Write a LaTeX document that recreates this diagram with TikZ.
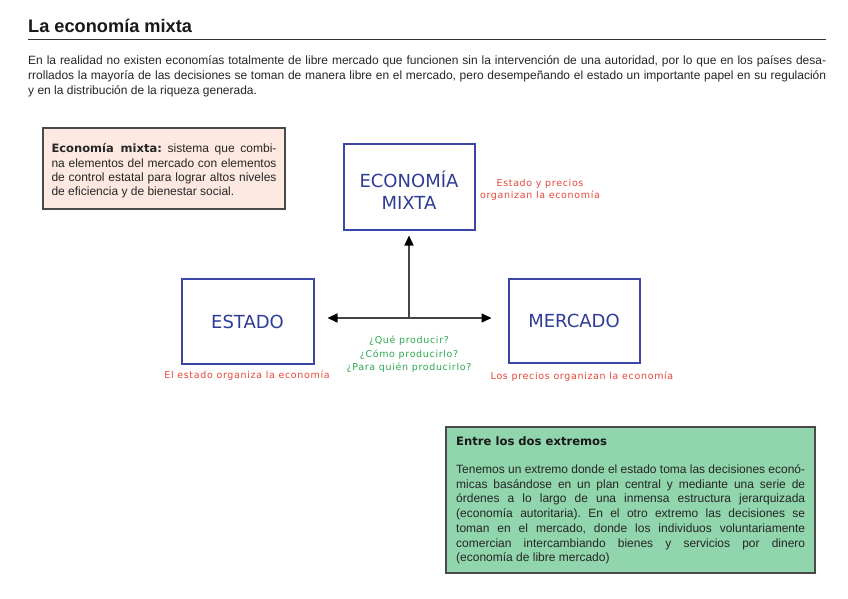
\documentclass[tikz,border=0pt]{standalone}
\usepackage{fontspec}
\setmainfont{Liberation Sans}
\newfontfamily\dv{DejaVu Sans}
\newfontfamily\dvls[LetterSpace=7]{DejaVu Sans}
\newfontfamily\dvbold{DejaVu Sans Bold}
\usetikzlibrary{arrows.meta}
\definecolor{rulegray}{HTML}{333333}
\definecolor{pinkfill}{HTML}{FDE9E1}
\definecolor{boxgray}{HTML}{4A4A4A}
\definecolor{blueline}{HTML}{3B46A6}
\definecolor{bluetext}{HTML}{2E3C96}
\definecolor{redtext}{HTML}{E8463A}
\definecolor{greentext}{HTML}{2DAA50}
\definecolor{greenfill}{HTML}{90D5AC}
\definecolor{arrgray}{HTML}{444444}
\newcommand\jl[2]{\makebox[#1][s]{#2}}
\frenchspacing
\begin{document}
\frenchspacing
\begin{tikzpicture}[x=1pt,y=-1pt,
  bluebox/.style={draw=blueline,line width=2pt,fill=white,inner sep=0pt,
    font=\dv\fontsize{18}{22}\selectfont,text=bluetext,align=center},
  redlbl/.style={inner sep=0pt,text=redtext,align=center,font=\dvls\fontsize{9.5}{12}\selectfont},
  greenlbl/.style={inner sep=0pt,text=greentext,align=center,font=\dvls\fontsize{9.5}{13.5}\selectfont},
  bodytxt/.style={inner sep=0pt,align=left,text=black!85},
  arr/.style={draw=arrgray,line width=1.5pt,-{Triangle[length=10pt,width=9pt,color=black]}},
  darr/.style={draw=arrgray,line width=1.5pt,{Triangle[length=10pt,width=9pt,color=black]}-{Triangle[length=10pt,width=9pt,color=black]}}
]
\fill[white] (0,0) rectangle (848,599);
\useasboundingbox (0,0) rectangle (848,599);

% title and rule
\node[anchor=base west,inner sep=0pt,font=\fontsize{18.2}{21}\selectfont\bfseries,text=black!90] (title) at (28,33) {La economía mixta};
\coordinate (ruleL) at (28,39.5);
\coordinate (ruleR) at (826,39.5);
\draw[rulegray,line width=1pt] (ruleL) -- (ruleR);

% intro paragraph
\node[bodytxt,anchor=north west,font=\fontsize{12}{15}\selectfont] (intro) at (28,55) {%
\jl{798pt}{En la realidad no existen economías totalmente de libre mercado que funcionen sin la intervención de una autoridad, por lo que en los países desa-}\\
\jl{798pt}{rrollados la mayoría de las decisiones se toman de manera libre en el mercado, pero desempeñando el estado un importante papel en su regulación}\\
y en la distribución de la riqueza generada.};

% definition box
\node[draw=boxgray,line width=1.2pt,fill=pinkfill,minimum width=242pt,minimum height=81pt,inner sep=0pt] (defbox) at (164,168.5) {};
\node[bodytxt,font=\fontsize{12}{14.4}\selectfont] (deftext) at ([yshift=-2.5pt]defbox.center) {%
\jl{225pt}{{\dvbold\fontsize{11.5}{14.4}\selectfont Economía mixta:} sistema que combi-}\\
\jl{225pt}{na elementos del mercado con elementos}\\
\jl{225pt}{de control estatal para lograr altos niveles}\\
de eficiencia y de bienestar social.};

% main boxes
\node[bluebox,minimum width=131pt,minimum height=86pt] (econ) at (409,186.5) {\rule{0pt}{24.5pt}ECONOMÍA\\MIXTA};
\node[bluebox,minimum width=132pt,minimum height=85pt] (estado) at (247.5,321) {\rule{0pt}{16pt}ESTADO};
\node[bluebox,minimum width=131pt,minimum height=84pt] (mercado) at (574,320.5) {MERCADO};

% labels
\node[redlbl] (econlbl) at (540,190) {Estado y precios\\organizan la economía};
\node[redlbl] (estadolbl) at (247,376) {El estado organiza la economía};
\node[redlbl] (mercadolbl) at (582,377) {Los precios organizan la economía};
\node[greenlbl] (preguntas) at (409,354.5) {¿Qué producir?\\¿Cómo producirlo?\\¿Para quién producirlo?};

% connectors
\coordinate (hub) at (409,318);
\draw[arr,shorten >=5pt] (hub) -- (econ.south);
\draw[darr,shorten <=13pt,shorten >=16pt] (estado.east |- hub) -- (mercado.west |- hub);

% extremes box
\node[draw=boxgray,line width=1.2pt,fill=greenfill,minimum width=369pt,minimum height=146pt,inner sep=0pt] (extbox) at (630.5,500) {};
\node[inner sep=0pt,anchor=west,font=\dvbold\fontsize{11.6}{14}\selectfont,text=black!90] (exttitle) at (456,441) {Entre los dos extremos};
\node[bodytxt,anchor=west,font=\fontsize{12}{14.7}\selectfont] (exttext) at (456,514.5) {%
\jl{349pt}{Tenemos un extremo donde el estado toma las decisiones econó-}\\
\jl{349pt}{micas basándose en un plan central y mediante una serie de}\\
\jl{349pt}{órdenes a lo largo de una inmensa estructura jerarquizada}\\
\jl{349pt}{(economía autoritaria). En el otro extremo las decisiones se}\\
\jl{349pt}{toman en el mercado, donde los individuos voluntariamente}\\
\jl{349pt}{comercian intercambiando bienes y servicios por dinero}\\
(economía de libre mercado)};
\end{tikzpicture}
\end{document}
